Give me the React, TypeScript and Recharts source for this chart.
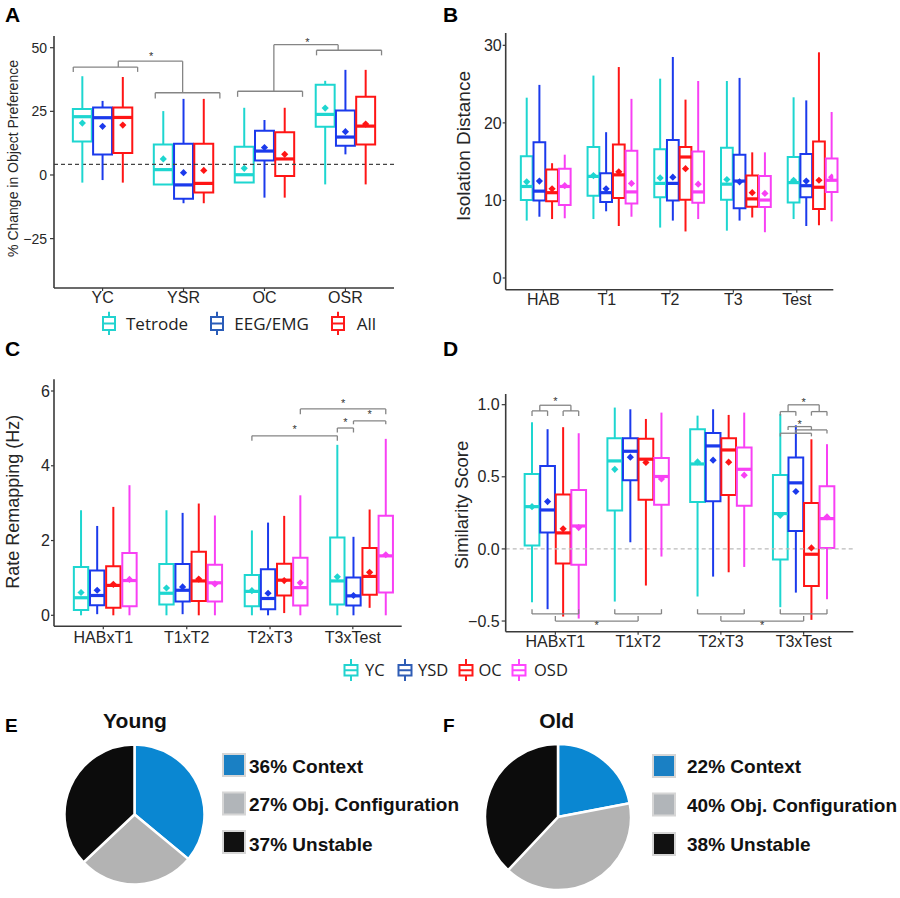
import React from 'react';
import { ScatterChart, Scatter, XAxis, YAxis, ReferenceArea, ReferenceLine, PieChart, Pie, Cell } from 'recharts';

const SANS = '"Liberation Sans", Arial, Helvetica, sans-serif';
const LEG = '"Open Sans", "Noto Sans", sans-serif';
const AXIS = '#3a3a3a';
const TXT = '#262626';
const BRK = '#858585';

const CYAN = '#1ED6D0';
const BLUE = '#1B3AEC';
const RED = '#FF1515';
const MAGENTA = '#F840F4';

// ---------------- Panel A ----------------
const aCategories = ['YC', 'YSR', 'OC', 'OSR'];
const aSeriesNames = ['Tetrode', 'EEG/EMG', 'All'];
// each box: [min, q1, median, q3, max, mean]
const aTetrode = [
  [-3.0, 13.2, 22.9, 25.9, 38.8, 20.4],
  [-3.7, -3.7, 2.1, 12.0, 25.1, 6.3],
  [-3.0, -3.0, 0.1, 11.1, 26.4, 2.6],
  [-3.7, 18.9, 23.8, 35.4, 37.0, 26.3],
];
const aEEG = [
  [-2.0, 8.0, 22.5, 26.5, 29.1, 19.1],
  [-11.1, -9.3, -3.9, 12.3, 29.9, 0.9],
  [-8.9, 5.7, 9.4, 17.4, 21.6, 10.8],
  [8.1, 11.5, 14.9, 25.3, 41.3, 17.0],
];
const aAll = [
  [-3.0, 8.6, 22.6, 26.5, 38.5, 19.6],
  [-11.1, -6.9, -3.3, 12.3, 29.9, 1.8],
  [-8.9, -0.4, 6.3, 16.8, 26.4, 8.1],
  [-3.7, 12.0, 19.2, 30.7, 41.3, 20.0],
];
const aYTicks = [-25, 0, 25, 50];
const aChance = 4.2;
// [x1, x2, y, end1, end2]
const aBrackets = [
  [0.638, 1.433, 42.4, 40.5, 40.5],
  [1.651, 2.449, 32.3, 30.0, 30.0],
  [1.194, 1.989, 44.7, 42.4, 32.3],
  [2.668, 3.47, 32.9, 30.7, 30.7],
  [3.643, 4.446, 49.0, 47.0, 47.0],
  [3.116, 3.91, 51.2, 32.9, 49.0],
];
const aStars = [
  [1.6, 47.7],
  [3.53, 53.2],
];

// ---------------- shared series for B, C, D ----------------
const groupNames = ['YC', 'YSD', 'OC', 'OSD'];

// ---------------- Panel B ----------------
const bCategories = ['HAB', 'T1', 'T2', 'T3', 'Test'];
const bLabelPos = [0.964, 1.914, 2.863, 3.812, 4.763];
const bYC = [
  [7.4, 10.05, 11.8, 15.7, 23.25, 12.4],
  [7.6, 10.6, 13.1, 16.9, 26.1, 13.2],
  [6.5, 10.4, 12.2, 16.6, 25.7, 12.9],
  [6.1, 10.1, 12.1, 16.8, 25.4, 12.7],
  [7.6, 9.75, 12.3, 15.6, 23.3, 12.6],
];
const bYSD = [
  [7.9, 10.0, 11.2, 17.5, 24.9, 12.5],
  [8.6, 9.8, 11.0, 13.5, 18.8, 11.5],
  [7.4, 10.0, 12.2, 17.8, 28.5, 13.0],
  [7.4, 9.0, 12.5, 15.9, 25.8, 12.4],
  [6.7, 10.4, 11.9, 16.0, 22.9, 12.5],
];
const bOC = [
  [7.6, 9.9, 11.0, 14.0, 14.8, 11.5],
  [6.7, 10.3, 13.3, 17.2, 27.2, 13.7],
  [6.0, 10.1, 15.6, 16.9, 23.0, 14.1],
  [7.8, 9.2, 10.2, 13.2, 16.2, 11.0],
  [6.8, 8.9, 11.7, 17.6, 29.1, 12.6],
];
const bOSD = [
  [7.7, 9.4, 11.8, 14.1, 15.9, 11.9],
  [7.9, 9.6, 11.1, 16.4, 23.1, 12.2],
  [7.6, 9.7, 11.1, 16.3, 25.4, 12.1],
  [5.9, 9.15, 10.05, 13.15, 16.2, 10.9],
  [7.3, 11.1, 12.6, 15.4, 21.4, 13.0],
];
const bYTicks = [0, 10, 20, 30];

// ---------------- Panel C ----------------
const cCategories = ['HABxT1', 'T1xT2', 'T2xT3', 'T3xTest'];
const cLabelPos = [0.977, 1.954, 2.929, 3.898];
const cYC = [
  [0, 0.14, 0.47, 1.29, 2.81, 0.61],
  [0, 0.29, 0.59, 1.37, 2.81, 0.73],
  [0, 0.24, 0.64, 1.08, 2.27, 0.66],
  [0, 0.29, 0.92, 2.08, 4.56, 1.03],
];
const cYSD = [
  [0.03, 0.27, 0.53, 1.2, 2.39, 0.67],
  [0.03, 0.37, 0.67, 1.37, 2.74, 0.76],
  [0, 0.16, 0.45, 1.23, 2.48, 0.59],
  [0, 0.26, 0.52, 1.01, 2.1, 0.53],
];
const cOC = [
  [0, 0.2, 0.8, 1.31, 2.9, 0.83],
  [0, 0.38, 0.92, 1.7, 2.99, 0.97],
  [0.06, 0.53, 0.94, 1.38, 2.66, 0.93],
  [0.2, 0.55, 1.04, 1.8, 2.83, 1.15],
];
const cOSD = [
  [0, 0.24, 0.93, 1.67, 3.48, 0.96],
  [0, 0.37, 0.87, 1.35, 2.67, 0.84],
  [0, 0.26, 0.74, 1.54, 3.21, 0.87],
  [0, 0.61, 1.59, 2.66, 4.72, 1.62],
];
const cYTicks = [0, 2, 4, 6];
// [group1, series1, group2, series2, y, end1, end2]
const cBrackets = [
  [3, 0, 4, 0, 4.8, 4.67, 4.67],
  [4, 0, 4, 1, 5.01, 4.89, 4.89],
  [4, 1, 4, 3, 5.2, 5.11, 5.11],
  [3, 3, 4, 3, 5.52, 5.38, 5.38],
];
// [group, series, y]
const cStars = [
  [3.5, 0, 5.03],
  [4, 0.5, 5.22],
  [4, 2, 5.43],
  [3.5, 3, 5.73],
];

// ---------------- Panel D ----------------
const dCategories = ['HABxT1', 'T1xT2', 'T2xT3', 'T3xTest'];
const dYC = [
  [-0.37, 0.023, 0.293, 0.52, 0.878, 0.293],
  [-0.365, 0.266, 0.61, 0.767, 0.98, 0.552],
  [-0.33, 0.326, 0.589, 0.83, 0.924, 0.603],
  [-0.404, -0.074, 0.245, 0.513, 0.936, 0.233],
];
const dYSD = [
  [-0.418, 0.113, 0.27, 0.575, 0.83, 0.328],
  [0.046, 0.476, 0.677, 0.767, 0.968, 0.636],
  [-0.192, 0.33, 0.714, 0.804, 0.968, 0.615],
  [-0.303, 0.125, 0.458, 0.633, 0.857, 0.398],
];
const dOC = [
  [-0.469, -0.102, 0.111, 0.377, 0.844, 0.139],
  [-0.254, 0.34, 0.622, 0.763, 0.901, 0.599],
  [-0.162, 0.374, 0.686, 0.767, 0.929, 0.601],
  [-0.492, -0.257, -0.037, 0.319, 0.76, 0.007],
];
const dOSD = [
  [-0.483, -0.109, 0.159, 0.409, 0.802, 0.148],
  [-0.053, 0.307, 0.502, 0.631, 0.945, 0.485],
  [-0.125, 0.3, 0.552, 0.703, 0.945, 0.511],
  [-0.349, 0.007, 0.21, 0.434, 0.726, 0.222],
];
const dYTicks = [-0.5, 0, 0.5, 1];
const dBrackets = [
  [1, 0, 1, 1, 0.957, 0.922, 0.922],
  [1, 2, 1, 3, 0.957, 0.922, 0.922],
  [1, 0.5, 1, 2.5, 0.996, 0.957, 0.957],
  [4, 0, 4, 1, 0.952, 0.924, 0.924],
  [4, 2, 4, 3, 0.952, 0.924, 0.924],
  [4, 0.5, 4, 2.5, 0.999, 0.952, 0.952],
  [4, 0.5, 4, 2, 0.848, 0.825, 0.825],
  [4, 1, 4, 3, 0.825, 0.8, 0.8],
  [4, 0, 4, 2, 0.802, 0.78, 0.78],
  [1, 0, 1, 3, -0.451, -0.418, -0.418],
  [2, 0, 2, 3, -0.451, -0.418, -0.418],
  [1, 1.5, 2, 1.5, -0.5, -0.465, -0.465],
  [3, 0, 3, 3, -0.451, -0.418, -0.418],
  [4, 0, 4, 3, -0.451, -0.418, -0.418],
  [3, 1.5, 4, 1.5, -0.5, -0.465, -0.465],
];
const dStars = [
  [1, 1.5, 1.038],
  [4, 1.5, 1.033],
  [4, 1.25, 0.883],
  [1.5, 1.5, -0.516],
  [3.5, 1.5, -0.516],
];

// ---------------- Panels E / F ----------------
const pieNames = ['Context', 'Obj. Configuration', 'Unstable'];
const youngValues = [36, 27, 37];
const oldValues = [22, 40, 38];
const pieColors = ['#0A87D2', '#B3B3B3', '#0C0C0C'];
const pieKeyColors = ['#1A80C4', '#B1B5B9', '#111111'];

// ---------------- helpers ----------------
type SeriesDef = { name: string; color: string; data: number[][] };

const fmtMinus = (v: number, digits = 0) => {
  const s = Math.abs(v).toFixed(digits);
  return v < 0 ? '\u2212' + s : s;
};

const diamondShape = (color: string) => (props: any) => {
  const { cx, cy } = props;
  if (cx == null || cy == null) return <g />;
  const r = 3.6;
  return <path d={`M${cx},${cy - r}L${cx + r},${cy}L${cx},${cy + r}L${cx - r},${cy}Z`} fill={color} />;
};

const starShape = (props: any) => {
  const { cx, cy } = props;
  if (cx == null || cy == null) return <g />;
  return (
    <text x={cx} y={cy + 6} textAnchor="middle" fontSize={11} fontFamily={SANS} fill="#333">
      *
    </text>
  );
};

interface PanelProps {
  left: number;
  top: number;
  width: number;
  height: number;
  plotTop: number;
  plotRight: number;
  yAxisW: number;
  xAxisH: number;
  xDomain: [number, number];
  yDomain: [number, number];
  xTicks: number[];
  xLabels: string[];
  yTicks: number[];
  yFmt: (v: number) => string;
  series: SeriesDef[];
  groupPos: number[];
  offsets: number[];
  half: number;
  brackets: number[][]; // [x1,x2,y,e1,e2]
  stars: number[][]; // [x,y]
  hline?: { y: number; color: string; width: number };
  yTickFont: number;
  xTickFont: number;
  yTickSize: number;
  yTickMargin: number;
  xTickMargin: number;
  id: string;
}

function BoxPanel(p: PanelProps) {
  const els: React.ReactNode[] = [];
  if (p.hline) {
    els.push(
      <ReferenceLine key="hl" y={p.hline.y} stroke={p.hline.color} strokeWidth={p.hline.width} strokeDasharray="4 3" ifOverflow="visible" />
    );
  }
  p.series.forEach((s, si) =>
    s.data.forEach((b, gi) => {
      const x = p.groupPos[gi] + p.offsets[si];
      const [mn, q1, md, q3, mx] = b;
      const k = `${p.id}-${si}-${gi}`;
      if (mx > q3)
        els.push(
          <ReferenceLine key={k + 'wu'} segment={[{ x, y: q3 }, { x, y: mx }]} stroke={s.color} strokeWidth={2} ifOverflow="visible" />
        );
      if (q1 > mn)
        els.push(
          <ReferenceLine key={k + 'wl'} segment={[{ x, y: mn }, { x, y: q1 }]} stroke={s.color} strokeWidth={2} ifOverflow="visible" />
        );
      els.push(
        <ReferenceArea key={k + 'b'} x1={x - p.half} x2={x + p.half} y1={q1} y2={q3} fill="none" fillOpacity={0} stroke={s.color} strokeWidth={2} ifOverflow="visible" />
      );
      els.push(
        <ReferenceLine key={k + 'md'} segment={[{ x: x - p.half, y: md }, { x: x + p.half, y: md }]} stroke={s.color} strokeWidth={3.2} ifOverflow="visible" />
      );
    })
  );
  p.brackets.forEach((br, i) => {
    const [x1, x2, y, e1, e2] = br;
    const k = `${p.id}-br${i}`;
    els.push(<ReferenceLine key={k + 'h'} segment={[{ x: x1, y }, { x: x2, y }]} stroke={BRK} strokeWidth={1.3} ifOverflow="visible" />);
    els.push(<ReferenceLine key={k + 'a'} segment={[{ x: x1, y }, { x: x1, y: e1 }]} stroke={BRK} strokeWidth={1.3} ifOverflow="visible" />);
    els.push(<ReferenceLine key={k + 'b'} segment={[{ x: x2, y }, { x: x2, y: e2 }]} stroke={BRK} strokeWidth={1.3} ifOverflow="visible" />);
  });

  return (
    <div style={{ position: 'absolute', left: p.left, top: p.top }}>
      <ScatterChart width={p.width} height={p.height} margin={{ top: p.plotTop, right: p.plotRight, left: 0, bottom: 0 }}>
        <XAxis
          type="number"
          dataKey="x"
          domain={p.xDomain}
          ticks={p.xTicks}
          interval={0}
          allowDataOverflow
          height={p.xAxisH}
          tickFormatter={(_v: any, i: number) => p.xLabels[i]}
          axisLine={{ stroke: AXIS, strokeWidth: 1.6 }}
          tickLine={{ stroke: AXIS, strokeWidth: 1.2 }}
          tickSize={3}
          tickMargin={p.xTickMargin}
          tick={{ fill: TXT, fontSize: p.xTickFont, fontFamily: SANS }}
        />
        <YAxis
          type="number"
          dataKey="y"
          domain={p.yDomain}
          ticks={p.yTicks}
          interval={0}
          allowDataOverflow
          width={p.yAxisW}
          tickFormatter={p.yFmt}
          axisLine={{ stroke: AXIS, strokeWidth: 1.6 }}
          tickLine={{ stroke: AXIS, strokeWidth: 1.2 }}
          tickSize={p.yTickSize}
          tickMargin={p.yTickMargin}
          tick={{ fill: TXT, fontSize: p.yTickFont, fontFamily: SANS }}
        />
        {els}
        {p.series.map((s, si) => (
          <Scatter
            key={`${p.id}-mean-${si}`}
            name={s.name}
            data={s.data.map((b, gi) => ({ x: p.groupPos[gi] + p.offsets[si], y: b[5] }))}
            fill={s.color}
            shape={diamondShape(s.color)}
            isAnimationActive={false}
          />
        ))}
        <Scatter
          name="significance"
          data={p.stars.map(([x, y]) => ({ x, y }))}
          fill="#333"
          shape={starShape}
          isAnimationActive={false}
        />
      </ScatterChart>
    </div>
  );
}

const evenOffsets = (n: number, spacing: number) => Array.from({ length: n }, (_, i) => (i - (n - 1) / 2) * spacing);

function toRawBrackets(list: number[][], spacing: number) {
  const pos = (g: number, s: number) => g + (s - 1.5) * spacing;
  return list.map(([g1, s1, g2, s2, y, e1, e2]) => [pos(g1, s1), pos(g2, s2), y, e1, e2]);
}
function toRawStars(list: number[][], spacing: number) {
  return list.map(([g, s, y]) => [g + (s - 1.5) * spacing, y]);
}

function BoxIcon({ x, top, color, w, boxTop, boxBottom, bottom }: any) {
  const mid = (boxTop + boxBottom) / 2;
  return (
    <g stroke={color} strokeWidth={2} fill="none">
      <line x1={x} x2={x} y1={top} y2={boxTop} />
      <line x1={x} x2={x} y1={boxBottom} y2={bottom} />
      <rect x={x - w / 2} y={boxTop} width={w} height={boxBottom - boxTop} />
      <line x1={x - w / 2} x2={x + w / 2} y1={mid} y2={mid} />
    </g>
  );
}

function PiePanel({ left, top, width, height, cx, cy, r, values }: any) {
  const data = pieNames.map((n, i) => ({ name: n, value: values[i] }));
  return (
    <div style={{ position: 'absolute', left, top }}>
      <PieChart width={width} height={height} margin={{ top: 0, right: 0, bottom: 0, left: 0 }}>
        <Pie
          data={data}
          dataKey="value"
          nameKey="name"
          cx={cx}
          cy={cy}
          outerRadius={r}
          innerRadius={0}
          startAngle={90}
          endAngle={-270}
          stroke="#ffffff"
          strokeWidth={2.5}
          isAnimationActive={false}
        >
          {data.map((d, i) => (
            <Cell key={d.name} fill={pieColors[i]} />
          ))}
        </Pie>
      </PieChart>
    </div>
  );
}

export default function App() {
  const legendColorsA = ['#22D3CF', '#2A5CB8', '#FF1A1A'];
  const legendColorsCD = ['#22D3CF', '#2F5DB5', '#FF1A1A', '#FF45FF'];
  const seriesColors4 = [CYAN, BLUE, RED, MAGENTA];

  const aSeries: SeriesDef[] = [
    { name: aSeriesNames[0], color: CYAN, data: aTetrode },
    { name: aSeriesNames[1], color: BLUE, data: aEEG },
    { name: aSeriesNames[2], color: RED, data: aAll },
  ];
  const bSeries: SeriesDef[] = [bYC, bYSD, bOC, bOSD].map((d, i) => ({ name: groupNames[i], color: seriesColors4[i], data: d }));
  const cSeries: SeriesDef[] = [cYC, cYSD, cOC, cOSD].map((d, i) => ({ name: groupNames[i], color: seriesColors4[i], data: d }));
  const dSeries: SeriesDef[] = [dYC, dYSD, dOC, dOSD].map((d, i) => ({ name: groupNames[i], color: seriesColors4[i], data: d }));

  const cSpacing = 0.189;
  const dSpacing = 0.188;

  const pieLegend = (x0: number, textX: number, rows: number[], baselines: number[], values: number[]) =>
    values.map((v, i) => (
      <g key={`${x0}-${i}`}>
        <rect x={x0} y={rows[i]} width={22} height={22} fill={pieKeyColors[i]} stroke="#D6D6D6" strokeWidth={2} />
        <text x={textX} y={baselines[i]} fontFamily={SANS} fontWeight="bold" fontSize={19} fill="#111">
          {`${v}% ${pieNames[i]}`}
        </text>
      </g>
    ));

  return (
    <div style={{ position: 'absolute', left: 0, top: 0, width: 900, height: 898, background: '#fff', overflow: 'hidden' }}>
      <BoxPanel
        id="A"
        left={0}
        top={0}
        width={420}
        height={310}
        plotTop={36}
        plotRight={26}
        yAxisW={54}
        xAxisH={22}
        xDomain={[0.4, 4.6]}
        yDomain={[-44.4, 54.6]}
        xTicks={[1, 2, 3, 4]}
        xLabels={aCategories}
        yTicks={aYTicks}
        yFmt={(v) => fmtMinus(v)}
        series={aSeries}
        groupPos={[1, 2, 3, 4]}
        offsets={evenOffsets(3, 0.25)}
        half={0.117}
        brackets={aBrackets}
        stars={aStars}
        hline={{ y: aChance, color: '#444', width: 1.2 }}
        yTickFont={14}
        xTickFont={16}
        yTickSize={4}
        yTickMargin={3}
        xTickMargin={1}
      />
      <BoxPanel
        id="B"
        left={450}
        top={0}
        width={410}
        height={312}
        plotTop={33}
        plotRight={26.7}
        yAxisW={55.7}
        xAxisH={22.3}
        xDomain={[0.4, 5.31]}
        yDomain={[-1.51, 31.59]}
        xTicks={bLabelPos}
        xLabels={bCategories}
        yTicks={bYTicks}
        yFmt={(v) => fmtMinus(v)}
        series={bSeries}
        groupPos={[1, 2, 3, 4, 5]}
        offsets={evenOffsets(4, 0.19)}
        half={0.088}
        brackets={[]}
        stars={[]}
        yTickFont={16}
        xTickFont={16}
        yTickSize={3}
        yTickMargin={1}
        xTickMargin={1}
      />
      <BoxPanel
        id="C"
        left={0}
        top={340}
        width={420}
        height={310}
        plotTop={39.3}
        plotRight={18.3}
        yAxisW={54}
        xAxisH={23.7}
        xDomain={[0.4, 4.47]}
        yDomain={[-0.294, 6.313]}
        xTicks={cLabelPos}
        xLabels={cCategories}
        yTicks={cYTicks}
        yFmt={(v) => fmtMinus(v)}
        series={cSeries}
        groupPos={[1, 2, 3, 4]}
        offsets={evenOffsets(4, cSpacing)}
        half={0.084}
        brackets={toRawBrackets(cBrackets, cSpacing)}
        stars={toRawStars(cStars, cSpacing)}
        yTickFont={16}
        xTickFont={16}
        yTickSize={3}
        yTickMargin={1}
        xTickMargin={2}
      />
      <BoxPanel
        id="D"
        left={450}
        top={340}
        width={420}
        height={310}
        plotTop={54}
        plotRight={16.7}
        yAxisW={55.7}
        xAxisH={18.3}
        xDomain={[0.4, 4.6]}
        yDomain={[-0.574, 1.074]}
        xTicks={[1, 2, 3, 4]}
        xLabels={dCategories}
        yTicks={dYTicks}
        yFmt={(v) => fmtMinus(v, 1)}
        series={dSeries}
        groupPos={[1, 2, 3, 4]}
        offsets={evenOffsets(4, dSpacing)}
        half={0.089}
        brackets={toRawBrackets(dBrackets, dSpacing)}
        stars={toRawStars(dStars, dSpacing)}
        hline={{ y: 0, color: '#BBBBBB', width: 1.3 }}
        yTickFont={16}
        xTickFont={16}
        yTickSize={4}
        yTickMargin={2}
        xTickMargin={1}
      />
      <PiePanel left={0} top={730} width={240} height={168} cx={134.5} cy={84.5} r={70} values={youngValues} />
      <PiePanel left={440} top={730} width={240} height={168} cx={118} cy={87} r={73} values={oldValues} />

      <svg width={900} height={898} style={{ position: 'absolute', left: 0, top: 0, pointerEvents: 'none' }}>
        {/* panel letters */}
        <g fontFamily={SANS} fontWeight="bold" fill="#000">
          <text x={5} y={22} fontSize={21}>A</text>
          <text x={443} y={22} fontSize={21}>B</text>
          <text x={5} y={356} fontSize={21}>C</text>
          <text x={443} y={356} fontSize={21}>D</text>
          <text x={5} y={731.7} fontSize={19}>E</text>
          <text x={443} y={731.7} fontSize={19}>F</text>
        </g>
        {/* axis titles */}
        <g fontFamily={SANS} fill={TXT} textAnchor="middle">
          <text transform="translate(17.5,158.5) rotate(-90)" fontSize={14}>% Change in Object Preference</text>
          <text transform="translate(470,146) rotate(-90)" fontSize={19}>Isolation Distance</text>
          <text transform="translate(19,501.7) rotate(-90)" fontSize={18}>Rate Remapping (Hz)</text>
          <text transform="translate(467.5,505) rotate(-90)" fontSize={18.5}>Similarity Score</text>
        </g>
        {/* legend A */}
        {[109, 217, 338].map((x, i) => (
          <BoxIcon key={`la${i}`} x={x} top={311.7} boxTop={317} boxBottom={330} bottom={335} w={12} color={legendColorsA[i]} />
        ))}
        {[126, 234.3, 356.7].map((x, i) => (
          <text key={`lat${i}`} x={x} y={329.5} fontFamily={LEG} fontSize={17} fill="#222">
            {aSeriesNames[i]}
          </text>
        ))}
        {/* legend C/D */}
        {[351, 405, 466, 519].map((x, i) => (
          <BoxIcon key={`lc${i}`} x={x} top={659} boxTop={665} boxBottom={675.5} bottom={681} w={13} color={legendColorsCD[i]} />
        ))}
        {[365, 418, 478.5, 534].map((x, i) => (
          <text key={`lct${i}`} x={x} y={675.5} fontFamily={LEG} fontSize={16.5} fill="#222">
            {groupNames[i]}
          </text>
        ))}
        {/* pie titles */}
        <g fontFamily={SANS} fontWeight="bold" fontSize={21} fill="#111" textAnchor="middle">
          <text x={135} y={728.3}>Young</text>
          <text x={556.7} y={728.3}>Old</text>
        </g>
        {pieLegend(223, 249, [754, 792.5, 831], [773.3, 810.7, 850.7], youngValues)}
        {pieLegend(653, 687, [755, 793.5, 833], [773.3, 812.3, 850.7], oldValues)}
      </svg>
    </div>
  );
}
